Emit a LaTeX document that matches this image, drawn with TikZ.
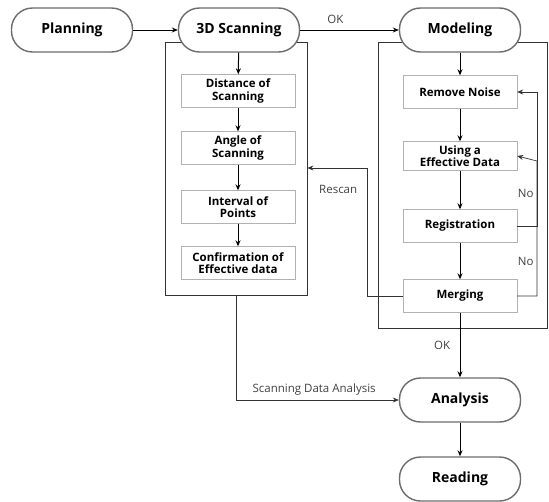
\documentclass[tikz,border=0pt]{standalone}
\usepackage{fontspec}
\setmainfont{Open Sans}
\usetikzlibrary{arrows.meta}
\begin{document}
\begin{tikzpicture}[x=1pt,y=-1pt,
  pill/.style={draw=gray!85!black, line width=1.4pt, fill=white, rounded corners=21pt,
    minimum width=121pt, minimum height=44pt, font=\fontsize{14}{16}\selectfont\bfseries},
  stepbox/.style={draw=gray!60, fill=white, minimum width=114pt, minimum height=33pt,
    inner sep=2pt, align=center, font=\fontsize{11.5}{12.5}\selectfont\bfseries},
  frame/.style={draw=black!80, line width=0.8pt},
  arr/.style={draw, line width=1pt, -{Stealth[length=6pt,width=5pt]}},
  thin arr/.style={draw=black!80, line width=0.7pt, -{Stealth[length=6pt,width=5pt]}},
  txt/.style={font=\fontsize{11.5}{13}\selectfont, text=black!75}]
\useasboundingbox (0,0) rectangle (549,501);
% containers
\node[frame, minimum width=142pt, minimum height=253pt] (box1) at (236,168.5) {};
\node[frame, minimum width=169pt, minimum height=286pt] (box2) at (462.5,185) {};

\node[pill] (plan) at (72,30) {Planning};
\node[pill] (scan) at (239,30) {3D Scanning};
\node[pill] (model) at (460,30) {Modeling};
\node[pill] (ana) at (460,400) {Analysis};
\node[pill] (read) at (460,479) {Reading};

\node[stepbox] (dist) at (238,91) {Distance of\\Scanning};
\node[stepbox] (angle) at (238,148) {Angle of\\Scanning};
\node[stepbox] (intv) at (238,207) {Interval of\\Points};
\node[stepbox] (conf) at (238,263) {Confirmation of\\Effective data};

\node[stepbox] (noise) at (460,92) {Remove Noise};
\node[stepbox, minimum height=29pt] (use) at (460,156) {Using a\\Effective Data};
\node[stepbox] (reg) at (460,226) {Registration};
\node[stepbox] (merge) at (460,296) {Merging};

\coordinate (rs) at (367,168);
\coordinate (fb) at (537,161);

\path[arr] (plan) -- (scan);
\path[arr] (scan) -- node[txt, above=3pt, xshift=-14pt] {OK} (model);
\path[arr] (scan) -- (dist);
\path[arr] (dist) -- (angle);
\path[arr] (angle) -- (intv);
\path[arr] (intv) -- (conf);
\path[arr] (model) -- (noise);
\path[arr] (noise) -- (use);
\path[arr] (use) -- node[txt, right=54pt, yshift=-3pt] {No} (reg);
\path[arr] (reg) -- node[txt, right=54pt] {No} (merge);
\path[arr] (merge) -- node[txt, left=6pt] {OK} (ana);
\path[arr] (ana) -- (read);

\path[thin arr] (merge.west) -| (rs) -- node[txt, below=14pt, xshift=1pt] {Rescan} (box1.east |- rs);
\path[draw=black!80, line width=0.7pt] (reg.east) -| (fb);
\path[thin arr] (merge.east) -| (fb) -- (use.east);
\path[thin arr] (fb) |- (noise.east);
\path[thin arr] (box1.south) |- node[txt, pos=0.74, above=1pt] {Scanning Data Analysis} (ana.west);
\end{tikzpicture}
\end{document}
